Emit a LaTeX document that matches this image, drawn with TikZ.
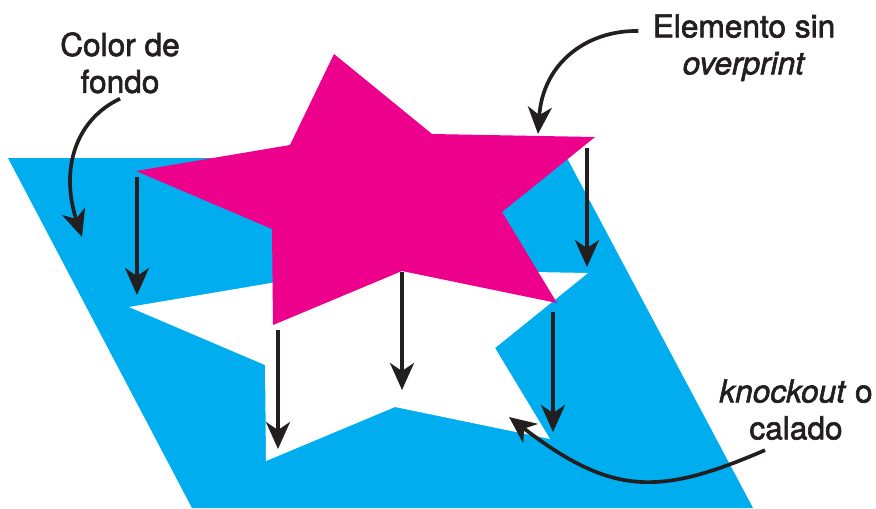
\documentclass[tikz,border=0pt]{standalone}
\usepackage{fontspec}
\setmainfont{TeX Gyre Heros}[FakeBold=2]
\usetikzlibrary{arrows.meta}
\definecolor{cian}{HTML}{00AEEF}
\definecolor{magenta}{HTML}{EC008C}
\definecolor{tinta}{HTML}{231F20}
% star outline, in pixel units
\newcommand{\starpts}{(334,54) -- (432,134) -- (595,137) -- (502,212) -- (557,303) -- (402,271) -- (273,325) -- (272,229) -- (136,171) -- (290,145) -- cycle}

\begin{document}
\begin{tikzpicture}[
  x=0.02cm, y=-0.02cm,
  lbl/.style={inner sep=0pt,align=center,text=tinta,font=\fontsize{18}{21}\selectfont},
  drop/.style={draw=tinta,line width=1.9pt,-{Stealth[length=0.54cm,width=0.48cm,inset=0.16cm]}},
  callout/.style={drop,line width=2.1pt}
]
\useasboundingbox (0,0) rectangle (876,508);

% background plate
\fill[cian] (8,158) -- (567,158) -- (753,508) -- (192,508) -- cycle;
% knockout hole
\begin{scope}[shift={(-7,136)}]
\fill[white] \starpts;
\end{scope}
% element on top
\fill[magenta] \starpts;

% drop arrows
\coordinate (d1a) at (137,177); \coordinate (d1b) at (137,295);
\coordinate (d2a) at (587,148); \coordinate (d2b) at (587,267);
\coordinate (d3a) at (278,330); \coordinate (d3b) at (278,449);
\coordinate (d4a) at (402,272); \coordinate (d4b) at (402,390);
\coordinate (d5a) at (553,312); \coordinate (d5b) at (553,432);
\foreach \i in {1,...,5}
  \draw[drop] (d\i a) -- (d\i b);

% labels
\node[lbl,anchor=north] (fondoTxt) at (120,32) {Color de\\fondo};
\node[lbl,anchor=north] (elemTxt) at (744,14) {Elemento sin\\\textit{overprint}};
\node[lbl,anchor=north] (koTxt) at (796,379) {\textit{knockout} o\\calado};

\coordinate (fondoTip) at (82,237);
\coordinate (elemTip) at (538,134);
\coordinate (koTip) at (509,417);

\draw[callout] ([yshift=-0.1cm]fondoTxt.south) .. controls (75,120) and (60,170) .. (fondoTip);
\draw[callout] ([xshift=-0.28cm,yshift=-0.34cm]elemTxt.north west) .. controls (588,30) and (543,62) .. (elemTip);
\draw[callout] ([xshift=-0.62cm,yshift=-0.2cm]koTxt.south) .. controls (659,496) and (612,496) .. (koTip);
\end{tikzpicture}
\end{document}
